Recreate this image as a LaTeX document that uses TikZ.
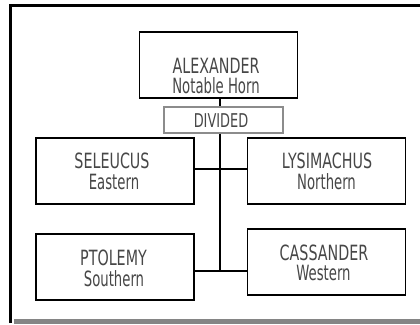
\documentclass[tikz,border=0pt]{standalone}
\usepackage{fontspec}
\newfontfamily\capfont[FakeStretch=0.68]{DejaVu Sans}
\newfontfamily\lowfont[FakeStretch=0.63]{DejaVu Sans}
\definecolor{txtgray}{HTML}{474747}
\definecolor{bargray}{HTML}{858585}
\definecolor{divgray}{HTML}{8C8C8C}
\tikzset{
  box/.style={draw=black, line width=1.5pt, fill=white, inner sep=0pt,
    minimum width=158pt, minimum height=66pt},
  divbox/.style={draw=divgray, line width=1.3pt, fill=white, inner sep=0pt,
    minimum width=119pt, minimum height=26pt},
  captxt/.style={font=\capfont\fontsize{21}{21}\selectfont, text=txtgray, inner sep=0pt, anchor=base},
  lowtxt/.style={font=\lowfont\fontsize{21}{21}\selectfont, text=txtgray, inner sep=0pt, anchor=base},
  divtxt/.style={font=\capfont\fontsize{19}{19}\selectfont, text=txtgray, inner sep=0pt, anchor=base},
  conn/.style={draw=black, line width=2pt},
}
\begin{document}
\begin{tikzpicture}[x=1pt, y=-1pt]
\useasboundingbox (0,0) rectangle (420,324);
% frame
\fill[bargray] (14,319) rectangle (420,324);
\draw[line width=3pt] (10.5,323) -- (10.5,5.5) -- (420,5.5);

% boxes
\node[box] (alex) at (218.5,64.75) {};
\node[divbox] (div) at (223.5,120) {};
\node[box] (sel) at (115,171) {};
\node[box] (lys) at (326.5,171) {};
\node[box] (ptol) at (115,267) {};
\node[box] (cass) at (326.5,262) {};

% junctions
\coordinate (j1) at (220,169);
\coordinate (j2) at (220,271);

% connectors
\draw[conn] (alex.south -| j1) -- (div.north -| j1);
\draw[conn] (div.south -| j1) -- (j2);
\draw[conn] (sel.east |- j1) -- (lys.west |- j1);
\draw[conn] (ptol.east |- j2) -- (cass.west |- j2);

% texts
\node[captxt] (alexa) at (216,73.5) {ALEXANDER};
\node[lowtxt] (alexb) at (216,93.5) {Notable Horn};
\node[divtxt] (divt) at (221,127.5) {DIVIDED};
\node[captxt] (sela) at (112,168.3) {SELEUCUS};
\node[lowtxt] (selb) at (114,189) {Eastern};
\node[captxt] (lysa) at (327,168.3) {LYSIMACHUS};
\node[lowtxt] (lysb) at (326.5,189.5) {Northern};
\node[captxt] (ptola) at (113.5,265.7) {PTOLEMY};
\node[lowtxt] (ptolb) at (114,286) {Southern};
\node[captxt] (cassa) at (324,260) {CASSANDER};
\node[lowtxt] (cassb) at (323.5,280) {Western};
\end{tikzpicture}
\end{document}
